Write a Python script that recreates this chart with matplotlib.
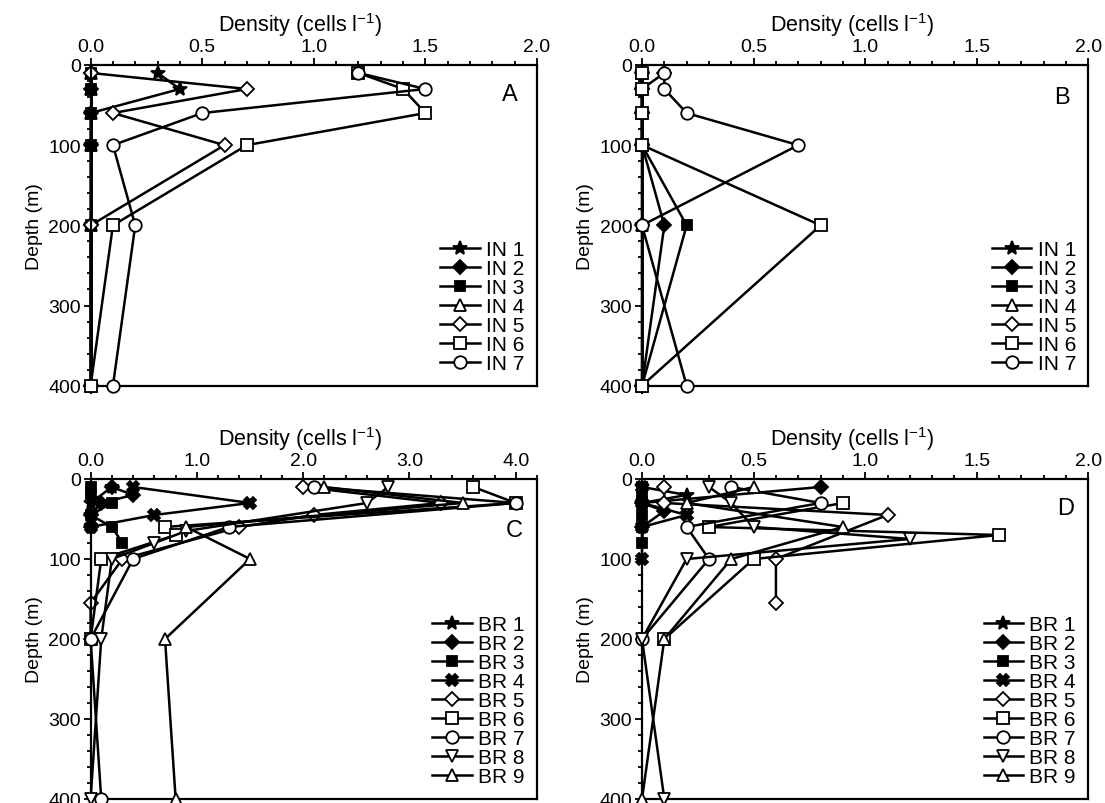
import numpy as np
import matplotlib
matplotlib.use("Agg")
from matplotlib import pyplot as plt
from matplotlib.ticker import MultipleLocator, FormatStrFormatter

plt.rcParams['font.family'] = ['Liberation Sans', 'DejaVu Sans']
plt.rcParams['mathtext.default'] = 'regular'

# depth levels (m) for the IN stations
in_depths = [10, 30, 60, 100, 200, 400]

# panel A, density per station (cells per litre)
a_in1 = [0.3, 0.4, 0, 0, 0, 0]
a_in2 = [0, 0, 0, 0, 0, 0]
a_in3 = [0, 0, 0, 0, 0, 0]
a_in4 = [0, 0, 0, 0, 0, 0]
a_in5 = [0, 0.7, 0.1, 0.6, 0, 0]
a_in6 = [1.2, 1.4, 1.5, 0.7, 0.1, 0]
a_in7 = [1.2, 1.5, 0.5, 0.1, 0.2, 0.1]

# panel B
b_in1 = [0, 0, 0, 0, 0, 0]
b_in2 = [0, 0, 0, 0, 0.1, 0]
b_in3 = [0, 0, 0, 0, 0.2, 0]
b_in4 = [0, 0, 0, 0, 0, 0]
b_in5 = [0.1, 0, 0, 0, 0, 0]
b_in6 = [0, 0, 0, 0, 0.8, 0]
b_in7 = [0.1, 0.1, 0.2, 0.7, 0, 0.2]

# panel C, BR stations (each has its own depths)
c_depths = [
    [10, 30, 45, 60],
    [10, 20, 30, 45, 60],
    [10, 20, 30, 45, 60, 80],
    [10, 30, 45, 60],
    [10, 30, 45, 60, 100, 155, 200],
    [10, 30, 60, 70, 100, 200],
    [10, 30, 60, 100, 200, 400],
    [10, 30, 65, 80, 100, 200, 400],
    [10, 30, 60, 100, 200, 400],
]
c_values = [
    [0.2, 0, 0, 0],
    [0.2, 0.4, 0.1, 0, 0],
    [0, 0, 0.2, 0, 0.2, 0.3],
    [0.4, 1.5, 0.6, 0],
    [2.0, 3.3, 2.1, 1.4, 0.3, 0, 0],
    [3.6, 4.0, 0.7, 0.8, 0.1, 0],
    [2.1, 4.0, 1.3, 0.4, 0, 0.1],
    [2.8, 2.6, 0.9, 0.6, 0.2, 0.1, 0],
    [2.2, 3.5, 0.9, 1.5, 0.7, 0.8],
]

# panel D
d_depths = [
    [10, 20, 30],
    [10, 30, 40, 60],
    [10, 20, 30, 45, 60, 80],
    [10, 30, 45, 60, 100],
    [10, 30, 45, 100, 155],
    [30, 60, 70, 100, 200],
    [10, 30, 60, 100, 200],
    [10, 30, 60, 75, 100, 200, 400],
    [10, 30, 60, 100, 200, 400],
]
d_values = [
    [0, 0.2, 0],
    [0.8, 0, 0.1, 0],
    [0, 0, 0, 0, 0, 0],
    [0, 0, 0.2, 0, 0],
    [0.1, 0.1, 1.1, 0.6, 0.6],
    [0.9, 0.3, 1.6, 0.5, 0.1],
    [0.4, 0.8, 0.2, 0.3, 0],
    [0.3, 0.4, 0.5, 1.2, 0.2, 0, 0.1],
    [0.5, 0.2, 0.9, 0.4, 0.1, 0],
]

in_labels = ['IN 1', 'IN 2', 'IN 3', 'IN 4', 'IN 5', 'IN 6', 'IN 7']
br_labels = ['BR 1', 'BR 2', 'BR 3', 'BR 4', 'BR 5', 'BR 6', 'BR 7', 'BR 8', 'BR 9']

# marker style: (marker, size, filled, zorder)
in_styles = [('*', 10, True, 2.1), ('D', 7, True, 2.2), ('s', 7, True, 2.3),
             ('^', 8, False, 2.0), ('D', 7.5, False, 2.5), ('s', 8, False, 2.6),
             ('o', 9, False, 2.7)]
br_styles = [('*', 10, True, 2.1), ('D', 7, True, 2.2), ('s', 7, True, 2.3),
             ('X', 9, True, 2.4), ('D', 7.5, False, 2.5), ('s', 8, False, 2.6),
             ('o', 9, False, 2.7), ('v', 8.5, False, 2.8), ('^', 8.5, False, 2.9)]


def draw_series(ax, x, y, style, label):
    m, ms, filled, z = style
    ax.plot(x, y, color='black', lw=1.8, marker=m, ms=ms,
            mfc='black' if filled else 'white', mec='black', mew=1.3,
            label=label, clip_on=False, zorder=z)


def setup(ax, xmax, major, minor, letter, letter_pos):
    ax.set_xlim(0, xmax)
    ax.set_ylim(400, 0)
    ax.xaxis.tick_top()
    ax.xaxis.set_label_position('top')
    ax.xaxis.set_major_locator(MultipleLocator(major))
    ax.xaxis.set_minor_locator(MultipleLocator(minor))
    ax.xaxis.set_major_formatter(FormatStrFormatter('%.1f'))
    ax.yaxis.set_major_locator(MultipleLocator(100))
    ax.yaxis.set_minor_locator(MultipleLocator(20))
    ax.tick_params(which='both', direction='out', top=True, bottom=False,
                   left=True, right=False, width=1.3, labelsize=14, pad=2)
    ax.tick_params(which='major', length=5)
    ax.tick_params(which='minor', length=3)
    for s in ax.spines.values():
        s.set_linewidth(1.6)
    ax.set_xlabel('Density (cells l$^{-1}$)', fontsize=15.5)
    ax.xaxis.set_label_coords(0.47, 1.105)
    ax.set_ylabel('Depth (m)', fontsize=14, labelpad=4)
    ax.text(letter_pos[0], letter_pos[1], letter, transform=ax.transAxes,
            fontsize=17, ha='center', va='center')
    ax.legend(loc='lower right', frameon=False, fontsize=15, handlelength=1.9,
              handletextpad=0.3, labelspacing=0.0, borderaxespad=0.3,
              borderpad=0.3)


fig = plt.figure(figsize=(11.05, 8.04), dpi=100)
ax_a = fig.add_axes([0.082, 0.519, 0.404, 0.399])
ax_b = fig.add_axes([0.581, 0.519, 0.404, 0.399])
ax_c = fig.add_axes([0.082, 0.005, 0.404, 0.398])
ax_d = fig.add_axes([0.581, 0.005, 0.404, 0.398])

a_all = [a_in1, a_in2, a_in3, a_in4, a_in5, a_in6, a_in7]
b_all = [b_in1, b_in2, b_in3, b_in4, b_in5, b_in6, b_in7]

for vals, st, lab in zip(a_all, in_styles, in_labels):
    draw_series(ax_a, vals, in_depths, st, lab)
for vals, st, lab in zip(b_all, in_styles, in_labels):
    draw_series(ax_b, vals, in_depths, st, lab)
for dep, vals, st, lab in zip(c_depths, c_values, br_styles, br_labels):
    draw_series(ax_c, vals, dep, st, lab)
for dep, vals, st, lab in zip(d_depths, d_values, br_styles, br_labels):
    draw_series(ax_d, vals, dep, st, lab)

setup(ax_a, 2.0, 0.5, 0.1, 'A', (0.94, 0.91))
setup(ax_b, 2.0, 0.5, 0.1, 'B', (0.94, 0.90))
setup(ax_c, 4.2, 1.0, 0.2, 'C', (0.95, 0.84))
setup(ax_d, 2.0, 0.5, 0.1, 'D', (0.95, 0.91))

plt.savefig('out.png', dpi=100)
